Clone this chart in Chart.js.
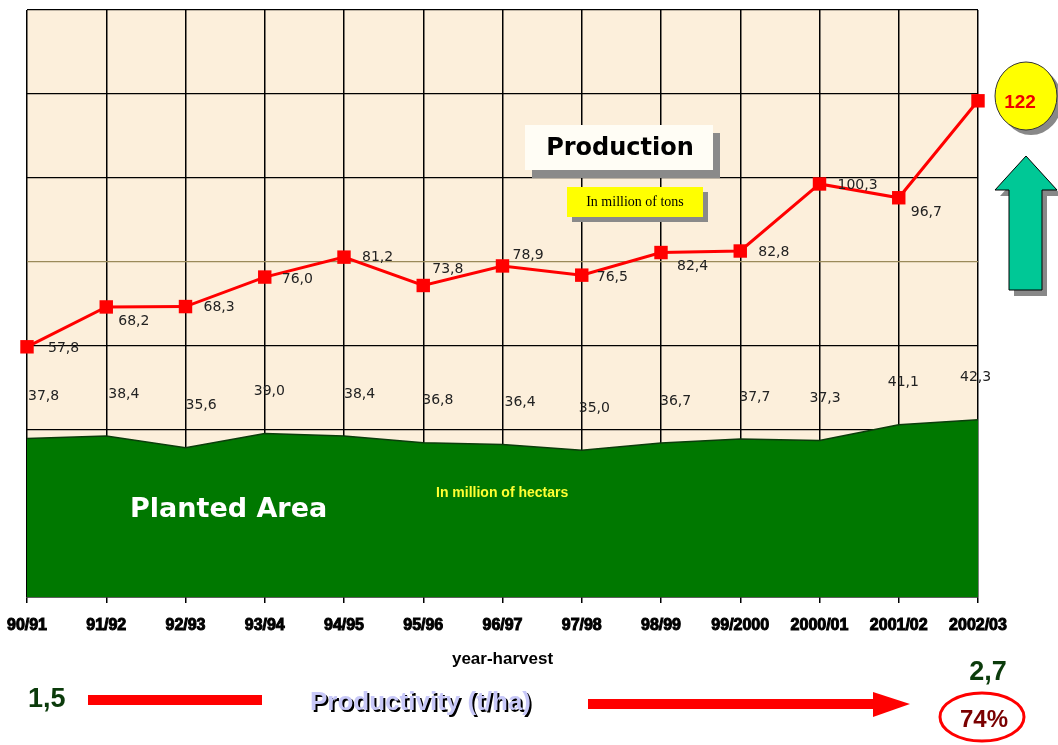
<!DOCTYPE html>
<html>
<head>
    <title>Production</title>
    <script src="https://cdn.jsdelivr.net/npm/chart.js"></script>
    <style>
        body { margin: 0; background: #ffffff; }
        .chart-container { position: relative; width: 1058px; height: 745px; }
    </style>
</head>
<body>
    <div class="chart-container">
        <canvas id="prodChart"></canvas>
    </div>
<script>
    // harvest years
    const seasons = ["90/91", "91/92", "92/93", "93/94", "94/95", "95/96", "96/97",
        "97/98", "98/99", "99/2000", "2000/01", "2001/02", "2002/03"];
    // production, million of tons
    const production = [57.8, 68.2, 68.3, 76.0, 81.2, 73.8, 78.9, 76.5, 82.4, 82.8, 100.3, 96.7, 122];
    // planted area, million of hectars
    const plantedArea = [37.8, 38.4, 35.6, 39.0, 38.4, 36.8, 36.4, 35.0, 36.7, 37.7, 37.3, 41.1, 42.3];

    const SANS = "'Liberation Sans', Arial, sans-serif";
    const LABEL_FONT = "14px 'DejaVu Sans', Verdana, sans-serif";

    function fmt(v) {
        return v.toFixed(1).replace(".", ",");
    }

    // label nudges (dx, dy) next to each production marker, last one sits in the bubble
    const prodLabelPos = [[21, 2], [12, 14], [18, 1], [17, 2], [18, 0], [9, -16], [10, -11],
        [15, 2], [16, 14], [18, 1], [18, 1], [12, 15], null];
    const areaLabelDx = [1, 2, 0, -11, 0, -1, 2, -3, -1, -1, -10, -11, -18];

    const backgroundPlugin = {
        id: "plotBackground",
        beforeDraw(chart) {
            const {ctx, chartArea: a} = chart;
            ctx.save();
            ctx.fillStyle = "#fcefdb";
            ctx.fillRect(a.left, a.top, a.right - a.left, a.bottom - a.top);
            ctx.restore();
        }
    };

    const labelsPlugin = {
        id: "valueLabels",
        afterDatasetsDraw(chart) {
            const ctx = chart.ctx;
            ctx.save();
            ctx.font = LABEL_FONT;
            ctx.fillStyle = "#222";
            ctx.textBaseline = "middle";
            ctx.textAlign = "left";

            chart.getDatasetMeta(0).data.forEach((pt, i) => {
                const p = prodLabelPos[i];
                if (!p) return;
                ctx.fillText(fmt(production[i]), pt.x + p[0], pt.y + p[1]);
            });

            chart.getDatasetMeta(1).data.forEach((pt, i) => {
                ctx.fillText(fmt(plantedArea[i]), pt.x + areaLabelDx[i], pt.y - 42);
            });
            ctx.restore();
        }
    };

    const decorPlugin = {
        id: "decor",
        afterDraw(chart) {
            const ctx = chart.ctx;
            ctx.save();

            // Production title box
            ctx.fillStyle = "#8a8a8a";
            ctx.fillRect(532, 133, 188, 45);
            ctx.fillStyle = "#fffdf5";
            ctx.fillRect(525, 125, 188, 45);
            ctx.fillStyle = "#000";
            ctx.font = "bold 24px 'DejaVu Sans', Verdana, sans-serif";
            ctx.textAlign = "center";
            ctx.textBaseline = "middle";
            ctx.fillText("Production", 620, 149);

            // unit tag
            ctx.fillStyle = "#8a8a8a";
            ctx.fillRect(572, 192, 136, 30);
            ctx.fillStyle = "#ffff00";
            ctx.fillRect(567, 187, 136, 30);
            ctx.fillStyle = "#000";
            ctx.font = "14px 'Liberation Serif', 'Times New Roman', serif";
            ctx.fillText("In million of tons", 635, 202);

            // planted area texts
            ctx.fillStyle = "#ffffff";
            ctx.font = "bold 27px 'DejaVu Sans', Verdana, sans-serif";
            ctx.textAlign = "left";
            ctx.fillText("Planted Area", 130, 510);
            ctx.fillStyle = "#ffff33";
            ctx.font = "bold 14px " + SANS;
            ctx.fillText("In million of hectars", 436, 493);

            // yellow bubble with the last value
            ctx.fillStyle = "#888";
            ctx.beginPath();
            ctx.ellipse(1031, 101, 31, 34, 0, 0, Math.PI * 2);
            ctx.fill();
            ctx.fillStyle = "#ffff00";
            ctx.strokeStyle = "#333";
            ctx.lineWidth = 1;
            ctx.beginPath();
            ctx.ellipse(1026, 96, 31, 34, 0, 0, Math.PI * 2);
            ctx.fill();
            ctx.stroke();
            ctx.fillStyle = "#ee0000";
            ctx.font = "bold 19px " + SANS;
            ctx.textAlign = "center";
            ctx.fillText(fmt(production[production.length - 1]).replace(",0", ""), 1020, 103);

            // green arrow up
            function upArrow(dx, dy) {
                ctx.beginPath();
                ctx.moveTo(1026 + dx, 156 + dy);
                ctx.lineTo(1057 + dx, 190 + dy);
                ctx.lineTo(1042 + dx, 190 + dy);
                ctx.lineTo(1042 + dx, 290 + dy);
                ctx.lineTo(1009 + dx, 290 + dy);
                ctx.lineTo(1009 + dx, 190 + dy);
                ctx.lineTo(995 + dx, 190 + dy);
                ctx.closePath();
            }
            ctx.fillStyle = "#888";
            upArrow(5, 6);
            ctx.fill();
            ctx.fillStyle = "#00c896";
            ctx.strokeStyle = "#000";
            upArrow(0, 0);
            ctx.fill();
            ctx.stroke();

            // productivity row
            ctx.fillStyle = "#0b3b0b";
            ctx.font = "bold 27px " + SANS;
            ctx.textAlign = "left";
            ctx.fillText("1,5", 28, 700);
            ctx.textAlign = "center";
            ctx.fillText("2,7", 988, 673);

            ctx.fillStyle = "#ff0000";
            ctx.fillRect(88, 695, 174, 10);
            ctx.fillRect(588, 699, 288, 10);
            ctx.beginPath();
            ctx.moveTo(873, 692);
            ctx.lineTo(910, 704);
            ctx.lineTo(873, 717);
            ctx.closePath();
            ctx.fill();

            ctx.font = "bold 26px " + SANS;
            ctx.textAlign = "left";
            ctx.fillStyle = "#000";
            ctx.fillText("Productivity (t/ha)", 312, 705);
            ctx.fillStyle = "#c8c8f8";
            ctx.fillText("Productivity (t/ha)", 310, 703);

            ctx.strokeStyle = "#ff0000";
            ctx.lineWidth = 3;
            ctx.beginPath();
            ctx.ellipse(982, 717, 42, 24, 0, 0, Math.PI * 2);
            ctx.stroke();
            ctx.fillStyle = "#7a0000";
            ctx.font = "bold 24px " + SANS;
            ctx.textAlign = "center";
            ctx.fillText("74%", 984, 720);

            ctx.restore();
        }
    };

    new Chart(document.getElementById("prodChart").getContext("2d"), {
        type: "line",
        data: {
            labels: seasons,
            datasets: [
                {
                    label: "Production",
                    data: production,
                    yAxisID: "yProd",
                    borderColor: "#ff0000",
                    backgroundColor: "#ff0000",
                    borderWidth: 3,
                    pointStyle: "rect",
                    pointRadius: 9.5,
                    pointBorderWidth: 0,
                    tension: 0,
                    clip: false
                },
                {
                    label: "Planted Area",
                    data: plantedArea,
                    yAxisID: "yArea",
                    borderColor: "#0b3d0b",
                    backgroundColor: "#007800",
                    borderWidth: 1.5,
                    pointRadius: 0,
                    fill: "origin",
                    tension: 0
                }
            ]
        },
        options: {
            responsive: true,
            maintainAspectRatio: false,
            animation: false,
            layout: {
                padding: {left: 27, right: 80, top: 10, bottom: 75}
            },
            plugins: {
                legend: {display: false},
                tooltip: {enabled: false}
            },
            scales: {
                x: {
                    offset: false,
                    grid: {color: "#000", lineWidth: 1.5, tickLength: 6, offset: false},
                    border: {color: "#000", width: 1.5},
                    ticks: {
                        color: "#000",
                        font: {family: SANS, size: 16, weight: "bold"},
                        padding: 13,
                        maxRotation: 0,
                        autoSkip: false,
                        textStrokeColor: "#000",
                        textStrokeWidth: 1
                    },
                    title: {
                        display: true,
                        text: "year-harvest",
                        color: "#000",
                        font: {family: SANS, size: 17, weight: "bold"},
                        padding: {top: 0, bottom: 0}
                    },
                    afterFit: (scale) => {
                        scale.height = 73;
                        scale.paddingLeft = 0;
                        scale.paddingRight = 0;
                    }
                },
                yArea: {
                    position: "left",
                    min: 0,
                    max: 140,
                    ticks: {display: false, stepSize: 20},
                    border: {display: false},
                    grid: {
                        drawTicks: false,
                        lineWidth: 1.2,
                        color: (c) => (c.tick && c.tick.value === 80 ? "#9a8a5a" : "#000")
                    }
                },
                yProd: {
                    display: false,
                    min: -7.5,
                    max: 145.7
                }
            }
        },
        plugins: [backgroundPlugin, labelsPlugin, decorPlugin]
    });
</script>
</body>
</html>
